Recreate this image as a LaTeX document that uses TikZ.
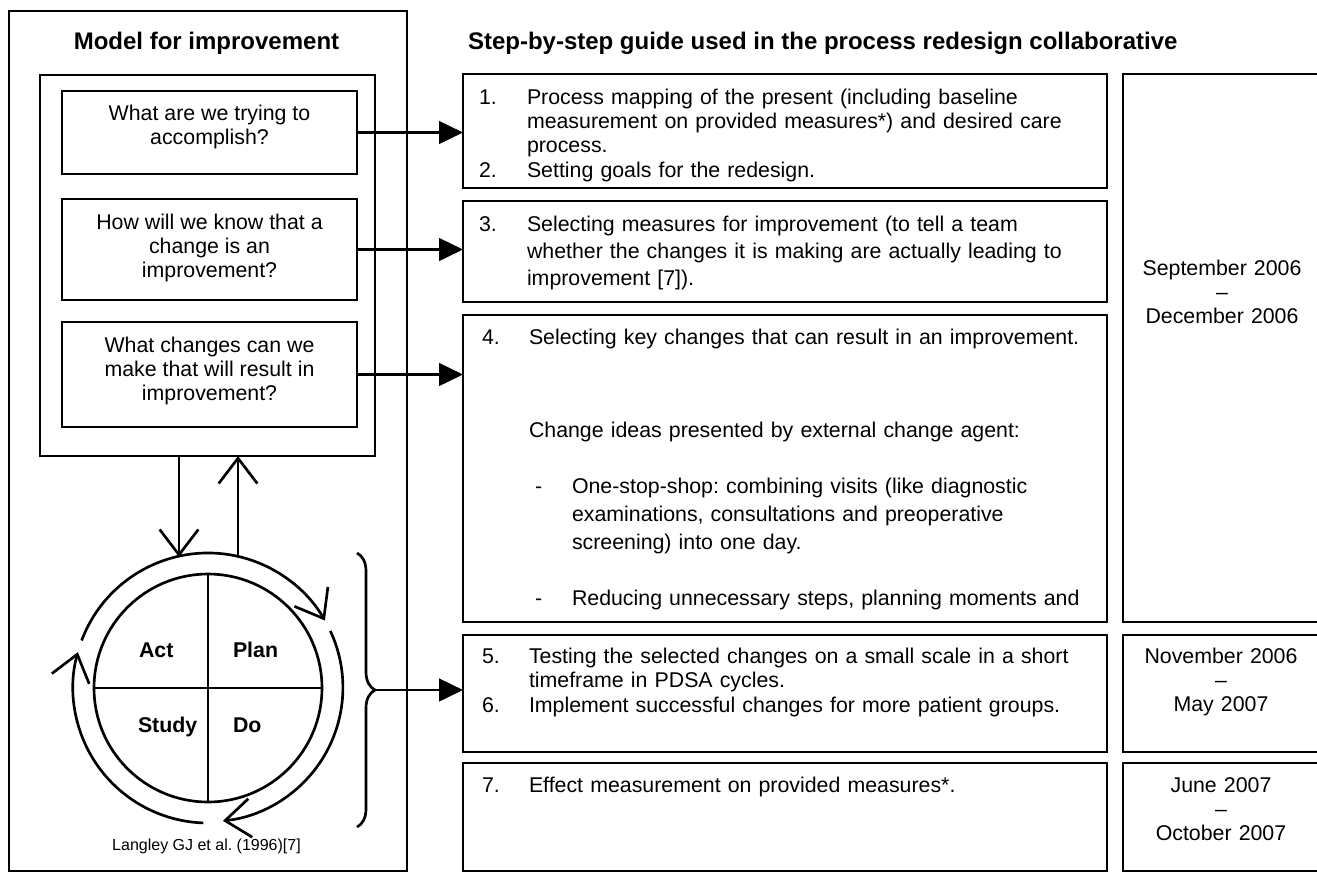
\documentclass[tikz,border=0pt]{standalone}
\usepackage{fontspec}
\setmainfont{Liberation Sans}
\usetikzlibrary{arrows.meta,decorations.pathreplacing}
\frenchspacing

\begin{document}
\begin{tikzpicture}[
    x=0.75pt, y=-0.75pt,
    line width=2pt,
    every node/.style={font=\fontsize{16}{18}\selectfont, inner sep=0pt, outer sep=0pt},
    plainbox/.style={draw, line width=2pt, anchor=north west},
    qbox/.style={plainbox, align=center, minimum width=221.25pt},
    stepbox/.style={plainbox, minimum width=483pt},
    datebox/.style={plainbox, minimum width=148.5pt},
    num/.style={anchor=base west},
    item/.style={anchor=base west, text width=440pt, align=left},
    datetext/.style={anchor=base, text width=142pt, align=center},
    heading/.style={font=\bfseries\fontsize{18}{21}\selectfont, anchor=base},
    pdsalabel/.style={font=\bfseries\fontsize{16}{18}\selectfont, anchor=base west},
    arrow/.style={-{Triangle[length=18pt, width=17pt]}},
    openarrow/.style={-{Straight Barb[length=19pt, width=29pt]}},
    brace/.style={decorate, decoration={brace, amplitude=13.5pt}}
  ]
  \useasboundingbox (0,0) rectangle (1317,872);

  % --- Model for improvement (left) ---
  \node[plainbox, minimum width=298.5pt, minimum height=645pt] (modelframe) at (9,11) {};
  \node[heading] (modeltitle) at (206.5,49) {Model for improvement};
  \node[plainbox, minimum width=251.25pt, minimum height=285.75pt] (model) at (40,75) {};

  \node[qbox, minimum height=62.25pt, text depth=11pt] (q1) at (62,91) {What are we trying to\\accomplish?};
  \node[qbox, minimum height=75.75pt, text depth=5.5pt] (q2) at (62,199) {How will we know that a\\change is an\\improvement?};
  \node[qbox, minimum height=78.75pt, text depth=8pt] (q3) at (62,322) {What changes can we\\make that will result in\\improvement?};

  % --- PDSA cycle ---
  \node[draw, circle, minimum size=171pt] (pdsa) at (208,688) {};
  \draw (pdsa.north) -- (pdsa.south);
  \draw (pdsa.west) -- (pdsa.east);
  \node[pdsalabel] (act) at (139,657) {Act};
  \node[pdsalabel] (plan) at (233,657) {Plan};
  \node[pdsalabel] (study) at (138,732) {Study};
  \node[pdsalabel] (do) at (233,732) {Do};

  \draw[openarrow] (pdsa.center) ++(-159.4:135) arc[start angle=-159.4, end angle=-30, radius=135];
  \draw[openarrow] (pdsa.center) ++(-25:135) arc[start angle=-25, end angle=84, radius=134];
  \draw[openarrow] (pdsa.center) ++(92:135) arc[start angle=92, end angle=195.4, radius=135];

  \coordinate (actin) at (179,557);
  \coordinate (planout) at (238,557);
  \draw[openarrow] (actin |- model.south) -- (actin);
  \draw[openarrow] (planout) -- (planout |- model.south);

  \node[font=\fontsize{12}{14}\selectfont, anchor=base] (source) at (206.5,850) {Langley GJ et al. (1996)[7]};

  % --- brace over the cycle ---
  \coordinate (bracetop) at (357,553);
  \coordinate (bracebot) at (357,827);
  \coordinate (bracetip) at (375,690);
  \draw[brace] (bracetop) -- (bracebot);

  % --- Step-by-step guide (right) ---
  \node[heading, anchor=base west] (guidetitle) at (468,49) {Step-by-step guide used in the process redesign collaborative};

  \node[stepbox, minimum height=85.5pt] (steps12) at (463,74) {};
  \node[stepbox, minimum height=75.75pt] (step3) at (463,201) {};
  \node[stepbox, minimum height=230.25pt] (step4) at (463,315) {};
  \node[stepbox, minimum height=87.75pt] (steps56) at (463,635) {};
  \node[stepbox, minimum height=81pt] (step7) at (463,763) {};

  \node[num] (n1) at (479,104) {1.};
  \node[item] (t1) at (527,104) {Process mapping of the present (including baseline\\measurement on provided measures*) and desired care\\process.};
  \node[num] (n2) at (479,177) {2.};
  \node[item] (t2) at (527,177) {Setting goals for the redesign.};

  \node[num] (n3) at (479,231) {3.};
  \node[item, font=\fontsize{16}{20.6}\selectfont] (t3) at (527,231) {Selecting measures for improvement (to tell a team\\whether the changes it is making are actually leading to\\improvement [7]).};

  \node[num] (n4) at (482,344) {4.};
  \node[item] (t4) at (529,344) {Selecting key changes that can result in an improvement.};
  \node[item] (ideas) at (529,437) {Change ideas presented by external change agent:};
  \node[num] (dash1) at (535,493) {-};
  \node[item, text width=400pt, font=\fontsize{16}{21}\selectfont] (idea1) at (572,493) {One-stop-shop: combining visits (like diagnostic\\examinations, consultations and preoperative\\screening) into one day.};
  \node[num] (dash2) at (535,605) {-};
  \node[item, text width=400pt] (idea2) at (572,605) {Reducing unnecessary steps, planning moments and};

  \node[num] (n5) at (482,663) {5.};
  \node[item] (t5) at (529,663) {Testing the selected changes on a small scale in a short\\timeframe in PDSA cycles.};
  \node[num] (n6) at (482,712) {6.};
  \node[item] (t6) at (529,712) {Implement successful changes for more patient groups.};

  \node[num] (n7) at (482,792) {7.};
  \node[item] (t7) at (529,792) {Effect measurement on provided measures*.};

  % --- Time frames ---
  \node[datebox, minimum height=411pt] (sched1) at (1123,74) {};
  \node[datebox, minimum height=87.75pt] (sched2) at (1123,635) {};
  \node[datebox, minimum height=81pt] (sched3) at (1123,763) {};
  \node[datetext] (d1) at (1222,275) {September 2006\\--\\December 2006};
  \node[datetext] (d2) at (1221,663) {November 2006\\--\\May 2007};
  \node[datetext] (d3) at (1221,792) {June 2007\\--\\October 2007};

  % --- Arrows into the guide ---
  \draw[arrow] (q1.east) -- (q1.east -| steps12.west);
  \draw[arrow] (q2.east) -- (q2.east -| step3.west);
  \draw[arrow] (q3.east) -- (q3.east -| step4.west);
  \draw[arrow] (bracetip) -- (bracetip -| steps56.west);

\end{tikzpicture}
\end{document}
